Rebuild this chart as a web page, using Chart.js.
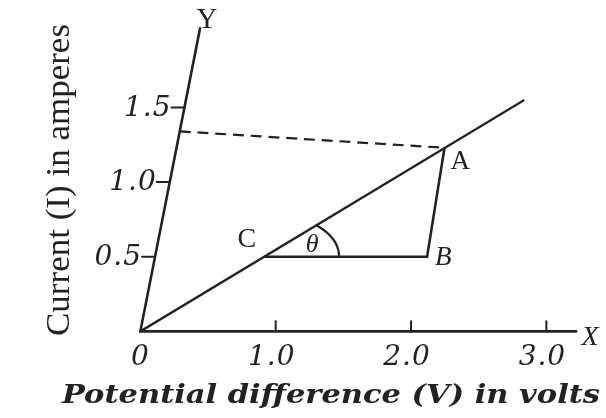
<!DOCTYPE html>
<html>
<head>
<meta charset="utf-8">
<script src="https://cdn.jsdelivr.net/npm/chart.js@4.4.1/dist/chart.umd.min.js"></script>
<style>
  html, body { margin: 0; padding: 0; background: #fff; }
  #wrap { width: 606px; height: 418px; position: relative; }
</style>
</head>
<body>
<div id="wrap"><canvas id="chart"></canvas></div>
<script>
// I-V graph of a conductor: potential difference (V) against current (I)
var lineV = [0, 2.5];          // straight line through the origin
var lineI = [0, 1.55];
var pointNames = ['C', 'B', 'A'];
var pointV = [0.806, 2.01, 1.98];
var pointI = [0.5, 0.5, 1.23];
var dashV = [0, 1.98];         // dashed guide from the I axis to A
var dashI = [1.34, 1.23];
var xTicks = [1.0, 2.0, 3.0];
var xTickLabels = ['1.0', '2.0', '3.0'];
var yTicks = [0.5, 1.0, 1.5];
var yTickLabels = ['0.5', '1.0', '1.5'];
var xAxisEnd = 3.22;
var yAxisEnd = 2.03;

var ink = '#222';
var skew = 0.197;   // the I axis leans to the right

function pts(xs, ys) {
  return xs.map(function (v, i) { return { x: v, y: ys[i] }; });
}

// pixel position on the leaning grid
function toPx(chart, v, i) {
  var xs = chart.scales.x, ys = chart.scales.y;
  var y0 = ys.getPixelForValue(0);
  var py = ys.getPixelForValue(i);
  return { x: xs.getPixelForValue(v) + skew * (y0 - py), y: py };
}

function fitText(ctx, text, x, y, width) {
  var w = ctx.measureText(text).width;
  ctx.save();
  ctx.translate(x, y);
  ctx.scale(width / w, 1);
  ctx.fillText(text, 0, 0);
  ctx.restore();
}

var skewPlugin = {
  id: 'skewData',
  beforeDatasetsDraw: function (chart) {
    var ctx = chart.ctx;
    var y0 = chart.scales.y.getPixelForValue(0);
    ctx.save();
    ctx.transform(1, 0, -skew, 1, skew * y0, 0);
  },
  afterDatasetsDraw: function (chart) {
    chart.ctx.restore();
  }
};

var axesPlugin = {
  id: 'leaningAxes',
  afterDraw: function (chart) {
    var ctx = chart.ctx;
    var o = toPx(chart, 0, 0);
    var xe = toPx(chart, xAxisEnd, 0);
    var ye = toPx(chart, 0, yAxisEnd);
    ctx.save();
    ctx.strokeStyle = ink;
    ctx.fillStyle = ink;
    ctx.lineWidth = 2.6;
    ctx.lineCap = 'round';

    // axes
    ctx.beginPath();
    ctx.moveTo(ye.x, ye.y);
    ctx.lineTo(o.x, o.y);
    ctx.lineTo(xe.x, xe.y);
    ctx.stroke();

    // x ticks and labels
    ctx.lineWidth = 2;
    ctx.font = 'italic 28px "DejaVu Serif"';
    ctx.letterSpacing = '1px';
    ctx.textAlign = 'center';
    ctx.textBaseline = 'middle';
    xTicks.forEach(function (v, k) {
      var p = toPx(chart, v, 0);
      ctx.beginPath();
      ctx.moveTo(p.x, p.y);
      ctx.lineTo(p.x, p.y - 10);
      ctx.stroke();
      ctx.fillText(xTickLabels[k], p.x - 4, p.y + 26);
    });
    ctx.fillText('0', o.x, o.y + 26);

    // y ticks and labels
    ctx.textAlign = 'right';
    yTicks.forEach(function (v, k) {
      var p = toPx(chart, 0, v);
      ctx.beginPath();
      ctx.moveTo(p.x, p.y);
      ctx.lineTo(p.x - 13, p.y);
      ctx.stroke();
      ctx.fillText(yTickLabels[k], p.x - 13, p.y + 1);
    });
    ctx.letterSpacing = '0px';

    // axis letters
    ctx.font = '29px "Liberation Serif"';
    ctx.textAlign = 'center';
    ctx.fillText('Y', ye.x + 7, ye.y - 8);
    ctx.font = 'italic 28px "Liberation Serif"';
    ctx.fillText('X', xe.x + 14, xe.y + 6);

    // angle at C
    var c = toPx(chart, pointV[0], pointI[0]);
    var end = toPx(chart, lineV[1], lineI[1]);
    var phi = Math.atan2(end.y - o.y, end.x - o.x);
    var rx = 75, ry = 44;
    var t0 = Math.atan2(Math.sin(phi) * rx, Math.cos(phi) * ry);
    ctx.lineWidth = 2.2;
    ctx.beginPath();
    ctx.ellipse(c.x, c.y, rx, ry, 0, t0, 0);
    ctx.stroke();
    ctx.font = 'italic 26px "Liberation Serif"';
    ctx.fillText('\u03B8', c.x + 48, c.y - 12);

    // point names
    ctx.font = '27px "Liberation Serif"';
    var a = toPx(chart, pointV[2], pointI[2]);
    var b = toPx(chart, pointV[1], pointI[1]);
    ctx.textAlign = 'left';
    ctx.fillText(pointNames[2], a.x + 6, a.y + 14);
    ctx.font = 'italic 27px "Liberation Serif"';
    ctx.fillText(pointNames[1], b.x + 8, b.y + 1);
    ctx.font = '28px "Liberation Serif"';
    ctx.textAlign = 'right';
    ctx.fillText(pointNames[0], c.x - 8, c.y - 17);

    // axis titles
    ctx.textAlign = 'left';
    ctx.font = 'bold italic 26px "DejaVu Serif"';
    fitText(ctx, 'Potential difference (V) in volts', 62, 396, 538);
    ctx.save();
    ctx.translate(60, 336);
    ctx.rotate(-Math.PI / 2);
    ctx.font = '34px "Liberation Serif"';
    fitText(ctx, 'Current (I) in amperes', 0, 0, 312);
    ctx.restore();

    ctx.restore();
  }
};

new Chart(document.getElementById('chart'), {
  type: 'scatter',
  data: {
    datasets: [
      {
        data: pts(lineV, lineI),
        showLine: true,
        borderColor: ink,
        borderWidth: 2.6,
        pointRadius: 0
      },
      {
        data: pts(dashV, dashI),
        showLine: true,
        borderColor: ink,
        borderWidth: 2.2,
        borderDash: [11, 7],
        pointRadius: 0
      },
      {
        data: pts(pointV, pointI),
        showLine: true,
        borderColor: ink,
        borderWidth: 2.6,
        pointRadius: 0
      }
    ]
  },
  options: {
    responsive: true,
    maintainAspectRatio: false,
    animation: false,
    layout: { padding: { left: 5, right: 19, top: 3, bottom: 12 } },
    plugins: { legend: { display: false }, tooltip: { enabled: false } },
    scales: {
      x: { type: 'linear', min: -1, max: 3.3, display: false },
      y: { type: 'linear', min: -0.5, max: 2.2, display: false }
    }
  },
  plugins: [skewPlugin, axesPlugin]
});
</script>
</body>
</html>
